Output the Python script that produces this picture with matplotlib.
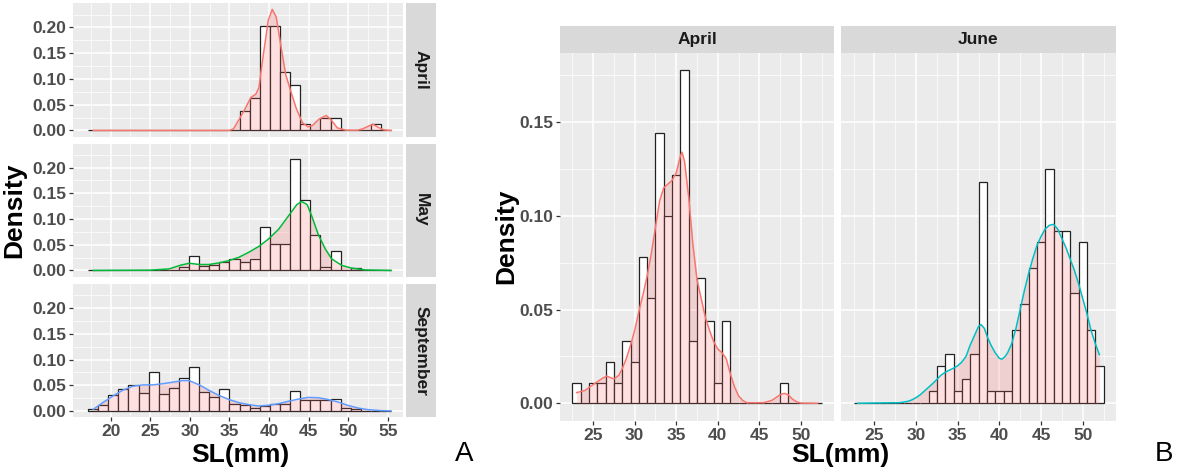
import matplotlib
matplotlib.use("Agg")
import matplotlib.pyplot as plt
import numpy as np

plt.rcParams['font.family'] = ['Liberation Sans', 'DejaVu Sans']

# ---- panel A: three months, 30 shared bins ----
a_edges = np.linspace(17.15, 55.4, 31)
a_months = ['April', 'May', 'September']
a_colors = ['#F8766D', '#00BA38', '#619CFF']

apr_a = [0] * 15 + [0.038, 0.063, 0.203, 0.203, 0.114, 0.089, 0.013, 0, 0.025, 0.025,
                    0, 0, 0, 0.013, 0]
may_a = [0] * 9 + [0.007, 0.028, 0.009, 0.011, 0.017, 0.022, 0.017, 0.022, 0.085, 0.051,
                   0.051, 0.216, 0.136, 0.068, 0.006, 0.038, 0, 0.005, 0, 0, 0]
sep_a = [0.003, 0.011, 0.031, 0.042, 0.051, 0.035, 0.075, 0.033, 0.044, 0.064,
         0.085, 0.037, 0.027, 0.043, 0.014, 0.011, 0.005, 0.009, 0.014, 0.013,
         0.038, 0.022, 0.022, 0.022, 0.024, 0.005, 0.003, 0, 0, 0]

# density curves
apr_a_kx = [17.8, 35.0, 35.5, 36.2, 36.9, 37.7, 38.3, 38.7, 39.3, 39.9, 40.4, 40.9, 41.5,
            42.1, 42.8, 43.4, 44.2, 44.9, 45.5, 46.3, 47.2, 47.8, 48.6, 49.7, 51.2, 51.8,
            52.5, 53.1, 53.9, 54.5, 55.4]
apr_a_ky = [0, 0, 0.003, 0.021, 0.040, 0.064, 0.070, 0.082, 0.150, 0.214, 0.235, 0.220,
            0.163, 0.108, 0.073, 0.044, 0.015, 0.007, 0.010, 0.022, 0.029, 0.021, 0.005,
            0.0005, 0.0005, 0.003, 0.008, 0.012, 0.005, 0.001, 0]
may_a_kx = [17.8, 25.0, 27.4, 28.7, 29.9, 31.2, 32.4, 33.7, 34.9, 36.2, 37.4, 38.7, 39.9,
            41.2, 42.4, 43.5, 44.1, 44.8, 45.4, 46.2, 47.1, 47.9, 49.2, 50.4, 52.1, 55.4]
may_a_ky = [0, 0.0005, 0.003, 0.0096, 0.014, 0.0115, 0.0115, 0.0147, 0.019, 0.0256, 0.035,
            0.0466, 0.0607, 0.080, 0.105, 0.128, 0.134, 0.128, 0.105, 0.070, 0.0415,
            0.0224, 0.0096, 0.0045, 0.001, 0]
sep_a_kx = [17.8, 19.0, 20.3, 21.5, 22.8, 24.1, 25.3, 26.6, 27.8, 29.1, 29.9, 31.2, 32.4,
            33.7, 34.9, 36.2, 37.4, 38.7, 39.9, 41.2, 42.4, 43.7, 44.9, 46.2, 47.4, 48.7,
            49.9, 51.2, 52.4, 54.1, 55.4]
sep_a_ky = [0.003, 0.016, 0.029, 0.040, 0.048, 0.0506, 0.0506, 0.053, 0.0558, 0.059, 0.059,
            0.0506, 0.040, 0.030, 0.0224, 0.016, 0.0122, 0.0096, 0.011, 0.014, 0.0186,
            0.023, 0.0263, 0.0256, 0.0224, 0.0173, 0.011, 0.0058, 0.0026, 0.0006, 0]

# ---- panel B: April vs June, bins of 1 mm ----
b_edges = np.arange(22.5, 53.0, 1.0)
b_months = ['April', 'June']
b_colors = ['#F8766D', '#00BFC4']

apr_b = [0.011, 0, 0.011, 0.011, 0.022, 0.011, 0.033, 0.022, 0.078, 0.056,
         0.144, 0.100, 0.122, 0.178, 0.033, 0.067, 0.044, 0.011, 0.044, 0,
         0, 0, 0, 0, 0, 0.011, 0, 0, 0, 0]
jun_b = [0, 0, 0, 0, 0, 0, 0, 0, 0, 0.0066,
         0.0197, 0.0263, 0.0066, 0.0132, 0.0263, 0.118, 0.0066, 0.0066, 0.0066, 0.039,
         0.053, 0.072, 0.086, 0.125, 0.092, 0.092, 0.059, 0.086, 0.039, 0.020]

apr_b_kx = [23, 24, 25, 26, 26.6, 27.5, 28.1, 28.5, 29, 29.5, 30, 30.5, 31, 31.5, 32, 32.5,
            33, 33.5, 34, 34.5, 35, 35.5, 35.7, 36, 36.5, 37, 37.5, 38, 38.5, 39, 39.5,
            40, 40.5, 41, 41.5, 42, 42.5, 43, 43.5, 45.5, 46.5, 47, 47.5, 48, 48.5, 49,
            49.5, 50, 52]
apr_b_ky = [0.0057, 0.0068, 0.0100, 0.0130, 0.0145, 0.0130, 0.0150, 0.0185, 0.024, 0.031,
            0.039, 0.049, 0.058, 0.068, 0.080, 0.094, 0.108, 0.115, 0.117, 0.119, 0.123,
            0.132, 0.134, 0.129, 0.110, 0.085, 0.066, 0.056, 0.046, 0.039, 0.033, 0.029,
            0.027, 0.024, 0.016, 0.009, 0.004, 0.0015, 0.0003, 0.0003, 0.0015, 0.003,
            0.0045, 0.0053, 0.0045, 0.0022, 0.0008, 0.0001, 0]
jun_b_kx = [23, 28, 29, 29.5, 30, 30.5, 31, 31.5, 32, 32.5, 33, 33.5, 34, 34.5, 35, 35.5,
            36, 36.5, 37, 37.5, 37.8, 38.2, 38.6, 39, 39.5, 40, 40.3, 40.7, 41, 41.5, 42,
            42.5, 43, 43.5, 44, 44.5, 45, 45.5, 46, 46.5, 47, 47.5, 48, 48.5, 49, 49.5,
            50, 50.5, 51, 51.5, 52]
jun_b_ky = [0, 0.0003, 0.001, 0.0018, 0.003, 0.0045, 0.0065, 0.0085, 0.0105, 0.0127, 0.015,
            0.0165, 0.0177, 0.0187, 0.020, 0.022, 0.025, 0.031, 0.036, 0.041, 0.042, 0.040,
            0.035, 0.031, 0.027, 0.024, 0.0235, 0.025, 0.027, 0.032, 0.040, 0.050, 0.060,
            0.069, 0.077, 0.084, 0.089, 0.093, 0.095, 0.0955, 0.093, 0.088, 0.083, 0.077,
            0.071, 0.064, 0.056, 0.048, 0.039, 0.032, 0.026]

W, H = 1178, 469
fig = plt.figure(figsize=(W / 100, H / 100), dpi=100)


def box(x0, y0, x1, y1):
    return [x0 / W, 1 - y1 / H, (x1 - x0) / W, (y1 - y0) / H]


def style(ax, xmaj, xmin, ymaj, ymin, show_x):
    ax.set_facecolor('#EBEBEB')
    for s in ax.spines.values():
        s.set_visible(False)
    ax.set_xticks(xmaj)
    ax.set_xticks(xmin, minor=True)
    ax.set_yticks(ymaj)
    ax.set_yticks(ymin, minor=True)
    ax.grid(which='major', color='white', lw=1.1)
    ax.grid(which='minor', color='white', lw=0.5)
    ax.set_axisbelow(True)
    ax.tick_params(which='minor', length=0)
    ax.tick_params(which='major', length=3, width=0.9, color='#333333',
                   labelcolor='#4D4D4D', labelsize=12.5, pad=2)
    ax.set_yticklabels(['%.2f' % v for v in ymaj], fontweight='bold')
    if show_x:
        ax.set_xticklabels([str(v) for v in xmaj], fontweight='bold')
    else:
        ax.tick_params(axis='x', which='major', length=0, labelbottom=False)


def draw(ax, edges, dens, kx, ky, col):
    ax.bar(edges[:-1], dens, width=np.diff(edges), align='edge', color='white',
           edgecolor='#222222', lw=0.9, zorder=2)
    ax.fill_between(kx, 0, ky, color='#FF6666', alpha=0.2, lw=0, zorder=3)
    ax.plot(kx, ky, color=col, lw=1.1, zorder=4)


# panel A
a_dens = [apr_a, may_a, sep_a]
a_kx = [apr_a_kx, may_a_kx, sep_a_kx]
a_ky = [apr_a_ky, may_a_ky, sep_a_ky]
rows = [(3.3, 136.5), (143.5, 276.5), (284, 417)]
for i, (y0, y1) in enumerate(rows):
    ax = fig.add_axes(box(73, y0, 403, y1))
    draw(ax, a_edges, a_dens[i], a_kx[i], a_ky[i], a_colors[i])
    ax.set_xlim(15.25, 56.9)
    ax.set_ylim(-0.0118, 0.2468)
    style(ax, [20, 25, 30, 35, 40, 45, 50, 55], np.arange(17.5, 57, 5),
          [0, 0.05, 0.10, 0.15, 0.20], [0.025, 0.075, 0.125, 0.175, 0.225], i == 2)
    st = fig.add_axes(box(406, y0, 436, y1))
    st.set_facecolor('#D9D9D9')
    st.set_xticks([])
    st.set_yticks([])
    for s in st.spines.values():
        s.set_visible(False)
    st.text(0.5, 0.5, a_months[i], rotation=270, ha='center', va='center',
            fontsize=12.5, fontweight='bold', color='#1A1A1A', transform=st.transAxes)

# panel B
b_dens = [apr_b, jun_b]
b_kx = [apr_b_kx, jun_b_kx]
b_ky = [apr_b_ky, jun_b_ky]
cols = [(560, 834), (841, 1116)]
for i, (x0, x1) in enumerate(cols):
    ax = fig.add_axes(box(x0, 52.7, x1, 420.7))
    draw(ax, b_edges, b_dens[i], b_kx[i], b_ky[i], b_colors[i])
    ax.set_xlim(21.0, 54.0)
    ax.set_ylim(-0.0093, 0.1871)
    style(ax, [25, 30, 35, 40, 45, 50], np.arange(22.5, 54, 5),
          [0, 0.05, 0.10, 0.15], [0.025, 0.075, 0.125, 0.175], True)
    if i == 1:
        ax.tick_params(axis='y', which='major', length=0, labelleft=False)
    st = fig.add_axes(box(x0, 26, x1, 52.7))
    st.set_facecolor('#D9D9D9')
    st.set_xticks([])
    st.set_yticks([])
    for s in st.spines.values():
        s.set_visible(False)
    st.text(0.5, 0.5, b_months[i], ha='center', va='center', fontsize=12.5,
            fontweight='bold', color='#1A1A1A', transform=st.transAxes)

# labels
def ftext(x, y, s, **kw):
    fig.text(x / W, 1 - y / H, s, ha='center', va='center', **kw)


ftext(14, 210, 'Density', rotation=90, fontsize=19, fontweight='bold')
ftext(240, 455, 'SL(mm)', fontsize=19, fontweight='bold')
ftext(464, 454, 'A', fontsize=20)
ftext(506, 236, 'Density', rotation=90, fontsize=19, fontweight='bold')
ftext(840, 455, 'SL(mm)', fontsize=19, fontweight='bold')
ftext(1164, 454, 'B', fontsize=20)

fig.savefig('out.png', dpi=100)
